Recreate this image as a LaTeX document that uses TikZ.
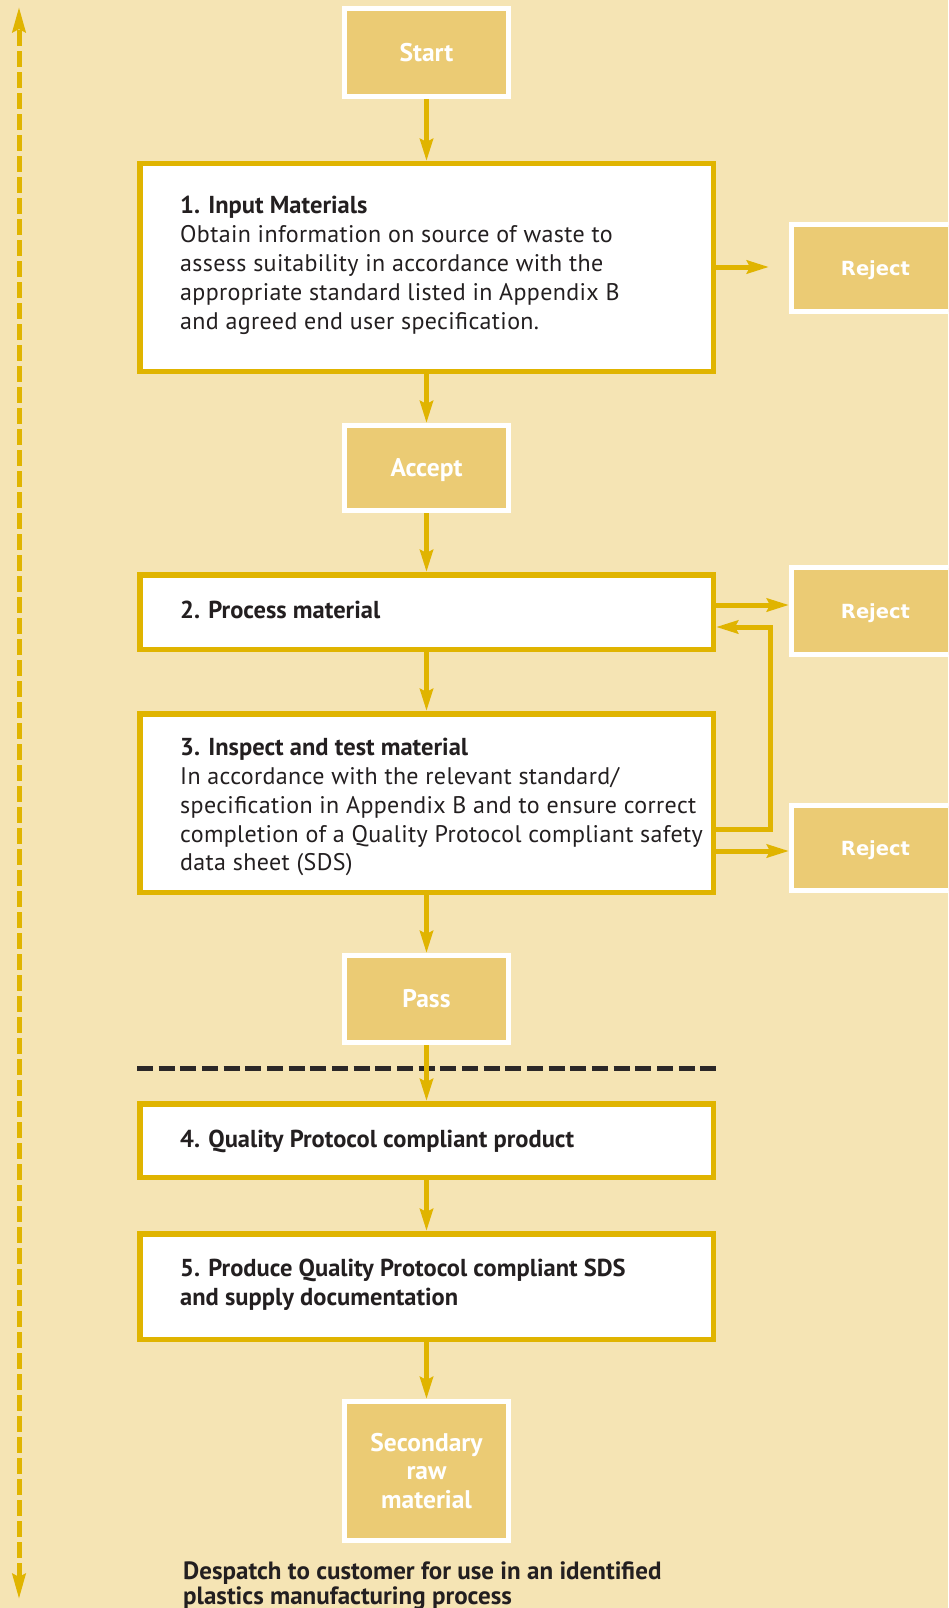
\documentclass[tikz,border=0pt]{standalone}
\usepackage{fontspec}
\setmainfont{PT Sans}
\newfontfamily\bodyfont[LetterSpace=1.5]{PT Sans}
\newfontfamily\rejfont{DejaVu Sans}
\usetikzlibrary{arrows.meta,calc}
\definecolor{bgc}{HTML}{F5E4B4}
\definecolor{gold}{HTML}{E0B400}
\definecolor{lab}{HTML}{EBCB74}
\definecolor{ink}{HTML}{231F20}
\definecolor{dashc}{HTML}{2B2727}
\begin{document}
\begin{tikzpicture}[x=1pt,y=-1pt,
  proc/.style={draw=gold,line width=5.5pt,fill=white,inner sep=0pt,rectangle},
  lbl/.style={draw=white,line width=5pt,fill=lab,inner sep=0pt,text=white,
    font=\fontsize{25.5}{28.7}\selectfont\bfseries,text height=17.8pt,text depth=0pt},
  rej/.style={lbl,font=\rejfont\fontsize{19.5}{24}\selectfont\bfseries,text height=14.2pt},
  lbltext/.style={inner sep=0pt,text=white,font=\fontsize{25.5}{28.7}\selectfont\bfseries,align=center},
  arr/.style={draw=gold,line width=5pt,line join=miter,-{Stealth[length=22pt,width=13pt,inset=3pt]}},
  side/.style={draw=gold,line width=5pt,dash pattern=on 16pt off 5pt,
    {Stealth[length=25pt,width=13pt,inset=3pt]}-{Stealth[length=25pt,width=13pt,inset=3pt]}},
  sepline/.style={draw=dashc,line width=5pt,dash pattern=on 16pt off 5.67pt},
  tt/.style={anchor=base west,inner sep=0pt,text=ink,font=\fontsize{24.5}{29}\selectfont\bfseries},
  tb/.style={anchor=base west,inner sep=0pt,text=ink,font=\bodyfont\fontsize{24}{29}\selectfont},
  dt/.style={anchor=base west,inner sep=0pt,text=ink,font=\fontsize{25}{27}\selectfont\bfseries},
]
\useasboundingbox (0,0) rectangle (948,1608);
\fill[bgc] (0,0) rectangle (948,1608);
\clip (0,0) rectangle (948,1608);

% label boxes
\node[lbl,minimum width=164pt,minimum height=88pt] (start) at (426.5,52.5) {Start};
\node[lbl,minimum width=164pt,minimum height=85pt] (acc) at (426.5,468) {Accept};
\node[lbl,minimum width=164pt,minimum height=87pt] (pass) at (426.5,999) {Pass};
\node[lbl,minimum width=164pt,minimum height=139pt] (sec) at (426.5,1471) {};
\node[lbltext] (sect) at (sec) {Secondary\\raw\\material};
\node[rej,minimum width=168pt,minimum height=87pt] (r1) at (875.5,268) {Reject};
\node[rej,minimum width=168pt,minimum height=87pt] (r2) at (875.5,611) {Reject};
\node[rej,minimum width=168pt,minimum height=85pt] (r3) at (875.5,848) {Reject};

% process boxes
\node[proc,minimum width=573.5pt,minimum height=207.5pt] (b1) at (426.5,267.5) {};
\node[proc,minimum width=573.5pt,minimum height=74.5pt] (b2) at (426.5,612) {};
\node[proc,minimum width=573.5pt,minimum height=178.5pt] (b3) at (426.5,803) {};
\node[proc,minimum width=573.5pt,minimum height=73.5pt] (b4) at (426.5,1140.5) {};
\node[proc,minimum width=573.5pt,minimum height=105.5pt] (b5) at (426.5,1286.5) {};

% texts
\node[tt] (b1t0) at (180,213) {1. Input Materials};
\node[tb] (b1t1) at (180,242) {Obtain information on source of waste to};
\node[tb] (b1t2) at (180,271) {assess suitability in accordance with the};
\node[tb] (b1t3) at (180,300) {appropriate standard listed in Appendix B};
\node[tb] (b1t4) at (180,329) {and agreed end user specification.};
\node[tt] (b2t0) at (180,618) {2. Process material};
\node[tt] (b3t0) at (180,755) {3. Inspect and test material};
\node[tb] (b3t1) at (180,784) {In accordance with the relevant standard/};
\node[tb] (b3t2) at (180,813) {specification in Appendix B and to ensure correct};
\node[tb] (b3t3) at (180,842) {completion of a Quality Protocol compliant safety};
\node[tb] (b3t4) at (180,870) {data sheet (SDS)};
\node[tt] (b4t0) at (180,1147) {4. Quality Protocol compliant product};
\node[tt] (b5t0) at (180,1276) {5. Produce Quality Protocol compliant SDS};
\node[tt] (b5t1) at (180,1305) {and supply documentation};
\node[dt] (d1) at (183,1579) {Despatch to customer for use in an identified};
\node[dt] (d2) at (183,1604) {plastics manufacturing process};

% separator
\coordinate (dL) at (137,1068);
\coordinate (dR) at (716,1068);
\draw[sepline] (dL) -- (dR);

% main arrows
\draw[arr] (start.south) -- (b1.north);
\draw[arr] (b1.south) -- (acc.north);
\draw[arr] (acc.south) -- (b2.north);
\draw[arr] (b2.south) -- (b3.north);
\draw[arr] (b3.south) -- (pass.north);
\draw[arr] (pass.south) -- (b4.north);
\draw[arr] (b4.south) -- (b5.north);
\draw[arr] (b5.south) -- (sec.north);

% reject arrows
\coordinate (r1tip) at ($(r1.west)+(-20,-1)$);
\draw[arr] (b1.east |- r1tip) -- (r1tip);
\coordinate (r2tip) at ($(r2.west)+(0,-6)$);
\draw[arr] (b2.east |- r2tip) -- (r2tip);
\coordinate (r3tip) at ($(r3.west)+(0,3)$);
\draw[arr] (b3.east |- r3tip) -- (r3tip);

% loop back
\coordinate (lpA) at ($(b3.east)+(0,26)$);
\coordinate (lpB) at ($(b2.east)+(0,15)$);
\draw[arr] (lpA) -- ++(54,0) |- (lpB);

% side arrow
\coordinate (sT) at (19,7);
\coordinate (sB) at (19,1599);
\draw[side] (sB) -- (sT);
\end{tikzpicture}
\end{document}
